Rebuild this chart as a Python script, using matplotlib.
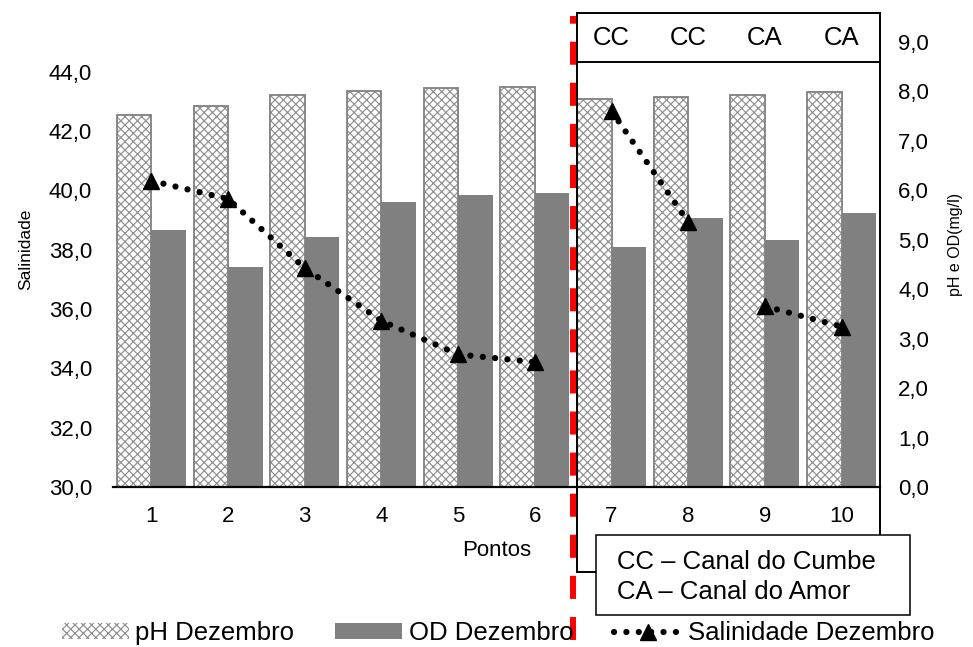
import matplotlib
matplotlib.use("Agg")
import matplotlib.pyplot as plt
import matplotlib.transforms as mtransforms
from matplotlib.patches import Rectangle, Patch
from matplotlib.lines import Line2D
from matplotlib.ticker import FuncFormatter, MultipleLocator

plt.rcParams['font.family'] = ['Liberation Sans', 'DejaVu Sans']
plt.rcParams['hatch.linewidth'] = 0.85

# Dados de dezembro por ponto de coleta
pontos = ['1', '2', '3', '4', '5', '6', '7', '8', '9', '10']
ph = [7.52, 7.71, 7.93, 8.00, 8.07, 8.08, 7.84, 7.88, 7.93, 7.98]
od = [5.20, 4.44, 5.06, 5.77, 5.91, 5.95, 4.85, 5.45, 5.00, 5.54]
salinidade = [40.32, 39.71, 37.38, 35.60, 34.47, 34.21, 42.67, 38.93, 36.09, 35.41]
canais = ['CC', 'CC', 'CA', 'CA']  # pontos 7 a 10
trechos = [(0, 6), (6, 8), (8, 10)]  # pontos ligados pela linha de salinidade

x = list(range(len(pontos)))
w = 0.45
hach = '#8f8f8f'

fig = plt.figure(figsize=(9.73, 6.47), dpi=100)
ax = fig.add_axes([113 / 973, 160 / 647, 767 / 973, 445 / 647])
ax2 = ax.twinx()

# barras de pH (hachuradas) e OD (eixo da direita)
xph = [i - w / 2 for i in x]
ax.bar(xph, ph, width=w, facecolor='white', edgecolor=hach, hatch='xxxx',
       linewidth=0, zorder=2)
ax.bar(xph, ph, width=w, fill=False, edgecolor='#808080', linewidth=1.3, zorder=2)
ax.bar([i + w / 2 for i in x], od, width=w, color='#808080', zorder=2)
ax.set_xlim(-0.5, 9.5)
ax.set_ylim(0, 9)
ax.yaxis.tick_right()
ax.yaxis.set_label_position('right')
ax.yaxis.set_major_locator(MultipleLocator(1))
ax.set_ylabel('pH e OD(mg/l)', fontsize=11.5)
ax.yaxis.set_label_coords(1.089, 0.544)

# salinidade (eixo da esquerda)
linha = dict(color='black', linewidth=4.5, dashes=(0.01, 1.97), dash_capstyle='round',
             marker='^', markersize=12, zorder=4)
for a, b in trechos:
    ax2.plot(x[a:b], salinidade[a:b], **linha)
ax2.set_ylim(30, 45)
ax2.yaxis.tick_left()
ax2.yaxis.set_label_position('left')
ax2.set_yticks([30, 32, 34, 36, 38, 40, 42, 44])
ax2.set_ylabel('Salinidade', fontsize=12.5)
ax2.yaxis.set_label_coords(-0.104, 0.535)

fmt = FuncFormatter(lambda v, p: f'{v:.1f}'.replace('.', ','))
ax.yaxis.set_major_formatter(fmt)
ax2.yaxis.set_major_formatter(fmt)

ax.set_xticks(x)
ax.set_xticklabels(pontos)
ax.set_xlabel('Pontos', fontsize=16, va='center')
ax.xaxis.set_label_coords(0.5, -0.142)
ax.tick_params(axis='x', length=0, pad=14, labelsize=16)
ax.tick_params(axis='y', length=0, pad=13, labelsize=16)
ax2.tick_params(axis='y', length=0, pad=15, labelsize=16)

for a in (ax, ax2):
    for s in ('top', 'left', 'right'):
        a.spines[s].set_visible(False)
ax2.spines['bottom'].set_visible(False)
ax.spines['bottom'].set_linewidth(1.6)
ax.spines['bottom'].set_zorder(5)

# divisão entre os pontos 1-6 e os canais
trans = mtransforms.blended_transform_factory(ax.transData, ax.transAxes)
ax2.plot([5.5, 5.5], [-0.344, 1.058], transform=trans, color='#ff0000', linewidth=4.3,
         dashes=(3.86, 3.02), clip_on=False, zorder=6)

# moldura dos canais
ax2.add_patch(Rectangle((5.55, -0.191), 3.95, 1.256, transform=trans, fill=False,
                        edgecolor='black', linewidth=1.4, clip_on=False, zorder=5))
ax2.plot([5.55, 9.5], [0.955, 0.955], transform=trans, color='black', linewidth=1.4,
         clip_on=False, zorder=5)
for i, c in zip(x[6:], canais):
    ax2.text(i, 1.008, c, transform=trans, ha='center', va='center', fontsize=18.5)

# caixa com as siglas
fig.patches.append(Rectangle((596 / 973, 32 / 647), 314 / 973, 80 / 647,
                             transform=fig.transFigure, facecolor='white',
                             edgecolor='black', linewidth=1.1, zorder=10))
fig.text(617 / 973, 85 / 647, 'CC – Canal do Cumbe', fontsize=18.5, va='center', zorder=11)
fig.text(617 / 973, 55 / 647, 'CA – Canal do Amor', fontsize=18.5, va='center', zorder=11)

handles = [
    Patch(facecolor='white', edgecolor=hach, hatch='xxxx', linewidth=0),
    Patch(facecolor='#808080'),
    Line2D([], [], color='black', linewidth=4.5, dashes=(0.01, 1.97),
           dash_capstyle='round', marker='^', markersize=12),
]
fig.legend(handles, ['pH Dezembro', 'OD Dezembro', 'Salinidade Dezembro'],
           loc='center', bbox_to_anchor=(498 / 973, 14 / 647), ncol=3, frameon=False,
           fontsize=18.5, handlelength=2.6, handleheight=0.55, handletextpad=0.25,
           columnspacing=1.6)

fig.savefig('out.png', dpi=100)
